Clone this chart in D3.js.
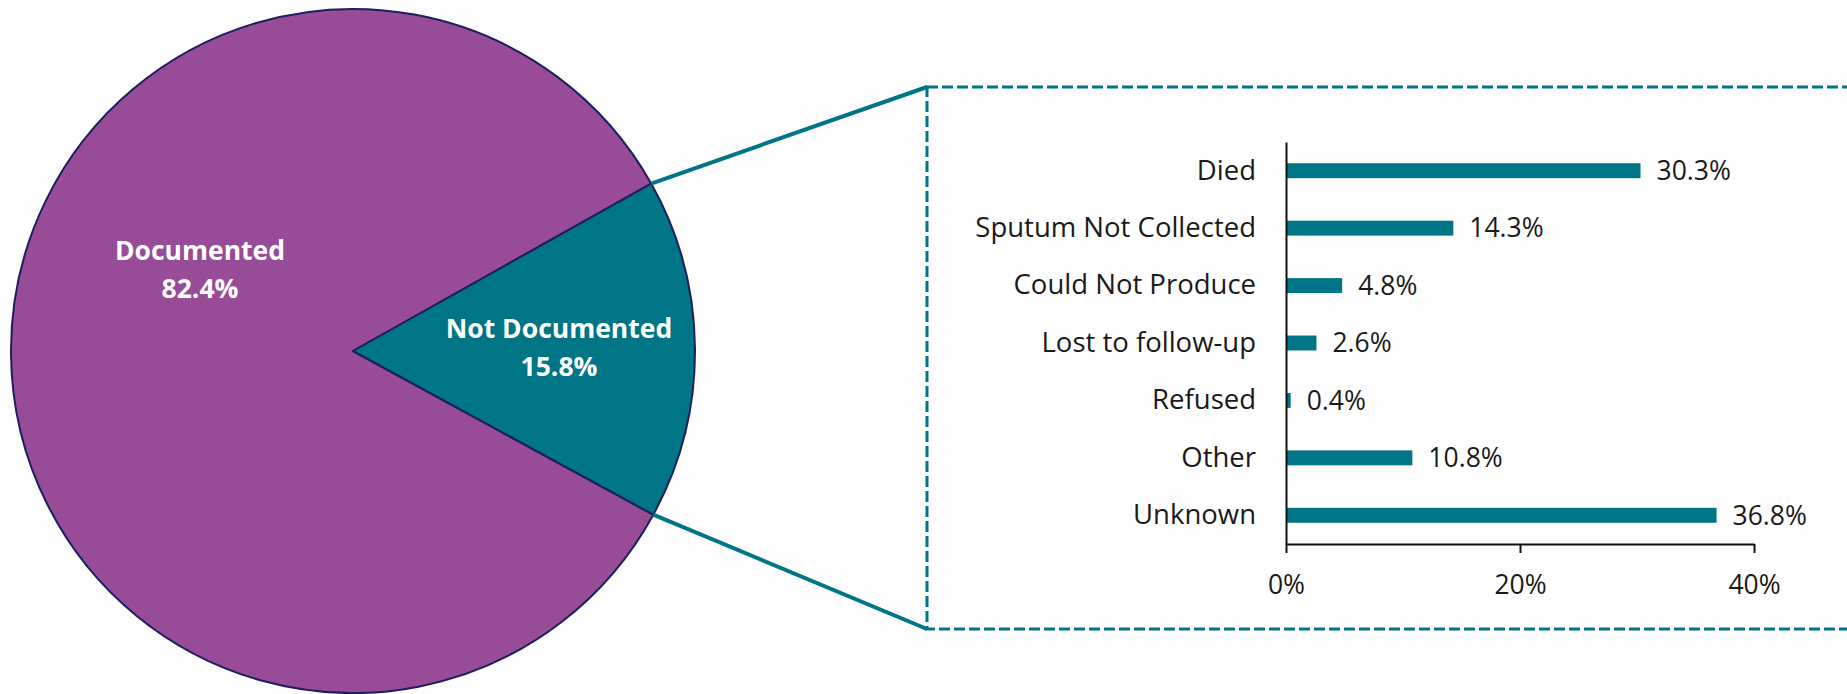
<!DOCTYPE html>
<html>
<head>
<meta charset="utf-8">
<script src="https://cdn.jsdelivr.net/npm/d3@7"></script>
<style>
  body { margin: 0; background: #fdfdfd; }
  svg { display: block; font-family: "Open Sans", sans-serif; }
</style>
</head>
<body>
<div id="chart"></div>
<script>

var width = 1847,
    height = 694;

// pie data
var pieLabels = ["Documented", "Not Documented"];
var pieValues = [82.4, 15.8];
var pieColors = ["#984c98", "#007585"];

// bar data (breakdown of "Not Documented")
var reasons = ["Died", "Sputum Not Collected", "Could Not Produce", "Lost to follow-up", "Refused", "Other", "Unknown"];
var reasonValues = [30.3, 14.3, 4.8, 2.6, 0.4, 10.8, 36.8];
var xTicks = [0, 20, 40];

var teal = "#007585";

var svg = d3.select("#chart").append("svg")
    .attr("width", width)
    .attr("height", height);

svg.append("rect")
    .attr("width", width)
    .attr("height", height)
    .attr("fill", "#fdfdfd");

// ---- pie ----
var cx = 353, cy = 351, radius = 342;
var startA = 118.6 * Math.PI / 180;

var pie = d3.pie()
    .sort(null)
    .startAngle(startA)
    .endAngle(startA + 2 * Math.PI);

var arcs = pie(pieValues);

var arc = d3.arc()
    .innerRadius(0)
    .outerRadius(radius);

var pg = svg.append("g")
    .attr("transform", "translate(" + cx + "," + cy + ")");

pg.selectAll("path")
  .data(arcs)
  .enter().append("path")
    .attr("d", arc)
    .attr("fill", function(d, i) { return pieColors[i]; })
    .attr("stroke", "#1c1f5e")
    .attr("stroke-width", 2)
    .attr("stroke-linejoin", "round");

// label positions (manual offsets, like the original)
var labelPos = [[-153, -83], [206, -5]];

var lab = pg.selectAll("text.pie-label")
  .data(arcs)
  .enter().append("text")
    .attr("class", "pie-label")
    .attr("text-anchor", "middle")
    .attr("fill", "#fff")
    .attr("font-weight", "bold")
    .attr("font-size", 26.5)
    .attr("transform", function(d, i) { return "translate(" + labelPos[i] + ")"; });

lab.append("tspan")
    .attr("x", 0)
    .attr("dy", "-0.3em")
    .text(function(d, i) { return pieLabels[i]; });
lab.append("tspan")
    .attr("x", 0)
    .attr("dy", "1.45em")
    .text(function(d) { return d.data.toFixed(1) + "%"; });

// ---- zoom box ----
var box = {left: 927, top: 87, bottom: 629, right: 1860};

// connector lines from the small slice edges to the box corners
var nd = arcs[1];
var p1 = [cx + radius * Math.sin(nd.startAngle), cy - radius * Math.cos(nd.startAngle)];
var p2 = [cx + radius * Math.sin(nd.endAngle), cy - radius * Math.cos(nd.endAngle)];

svg.append("line")
    .attr("x1", p1[0]).attr("y1", p1[1])
    .attr("x2", box.left).attr("y2", box.top)
    .attr("stroke", teal).attr("stroke-width", 4);
svg.append("line")
    .attr("x1", p2[0]).attr("y1", p2[1])
    .attr("x2", box.left).attr("y2", box.bottom)
    .attr("stroke", teal).attr("stroke-width", 4);

svg.append("rect")
    .attr("x", box.left)
    .attr("y", box.top)
    .attr("width", box.right - box.left)
    .attr("height", box.bottom - box.top)
    .attr("fill", "#fefefe")
    .attr("stroke", teal)
    .attr("stroke-width", 3)
    .attr("stroke-dasharray", "11,4");

// ---- bar chart ----
var x = d3.scaleLinear()
    .domain([0, 40])
    .range([1286, 1754]);

var y = d3.scaleBand()
    .domain(reasons)
    .range([142, 544])
    .paddingInner(0.74)
    .paddingOuter(0.37);

var bg = svg.append("g");

bg.selectAll("rect")
  .data(reasonValues)
  .enter().append("rect")
    .attr("x", x(0))
    .attr("y", function(d, i) { return y(reasons[i]); })
    .attr("width", function(d) { return x(d) - x(0); })
    .attr("height", y.bandwidth())
    .attr("fill", teal);

bg.selectAll("text.val")
  .data(reasonValues)
  .enter().append("text")
    .attr("class", "val")
    .attr("x", function(d) { return x(d) + 16; })
    .attr("y", function(d, i) { return y(reasons[i]) + y.bandwidth() / 2; })
    .attr("dy", "0.35em")
    .attr("font-size", 26.5)
    .attr("fill", "#1a1a1a")
    .text(function(d) { return d.toFixed(1) + "%"; });

// y axis (category labels)
svg.append("g")
    .attr("transform", "translate(" + x(0) + ",0)")
    .call(d3.axisLeft(y).tickSize(0).tickPadding(30))
    .call(function(g) {
      g.select(".domain").attr("stroke", "#111").attr("stroke-width", 2);
      g.selectAll("text").attr("font-size", 27.5).attr("fill", "#1a1a1a")
        .attr("font-family", "'Open Sans', sans-serif");
    });

// x axis
svg.append("g")
    .attr("transform", "translate(0," + 544 + ")")
    .call(d3.axisBottom(x).tickValues(xTicks).tickSize(9).tickSizeOuter(0).tickPadding(22)
      .tickFormat(function(d) { return d + "%"; }))
    .call(function(g) {
      g.select(".domain").attr("stroke", "#111").attr("stroke-width", 2);
      g.selectAll(".tick line").attr("stroke", "#111").attr("stroke-width", 2);
      g.selectAll("text").attr("font-size", 26.5).attr("fill", "#1a1a1a")
        .attr("font-family", "'Open Sans', sans-serif");
    });

</script>
</body>
</html>
